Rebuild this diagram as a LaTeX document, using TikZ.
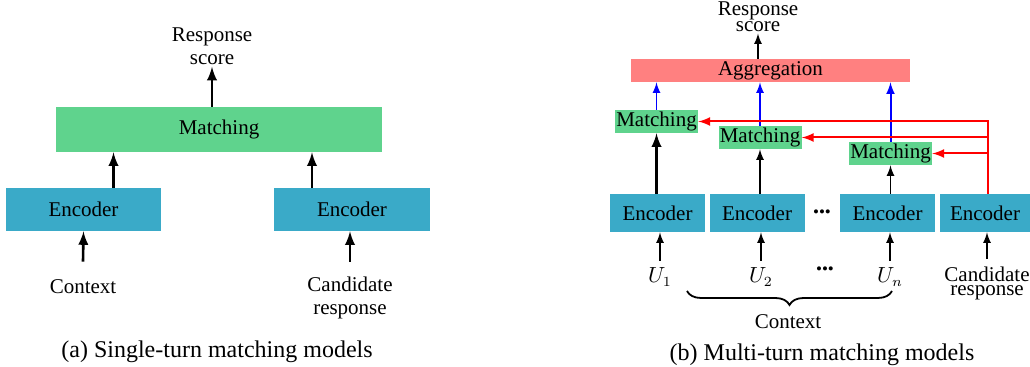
\documentclass[tikz,border=0pt]{standalone}
\usepackage{fontspec}
\setmainfont{Liberation Serif}
\usetikzlibrary{arrows,positioning,calc,decorations.pathreplacing}
\definecolor{matchgreen}{RGB}{95,211,141}
\definecolor{encblue}{RGB}{58,170,200}
\definecolor{aggred}{RGB}{255,128,128}

\begin{document}
\begin{tikzpicture}[x=0.5pt, y=-0.5pt, >=latex,
    font=\fontsize{10.5}{11.5}\selectfont,
    encbox/.style={rectangle, fill=encblue, minimum width=47.5pt, minimum height=19pt, inner sep=1pt},
    matchbox/.style={rectangle, fill=matchgreen, minimum width=41.5pt, minimum height=11.5pt, inner sep=0.5pt},
    lbl/.style={align=center, inner sep=1pt},
    tight/.style={align=center, inner sep=0.5pt, font=\fontsize{10.5}{7}\selectfont},
    dotsl/.style={inner sep=0pt, font=\fontsize{8.5}{9}\selectfont},
    up/.style={->, line width=0.8pt},
    bigup/.style={->, line width=1.3pt},
    redline/.style={->, red, line width=1pt}]

    \useasboundingbox (0,0) rectangle (1030,367);

    % (a) single-turn
    \node[rectangle, fill=matchgreen, minimum width=163pt, minimum height=22.5pt] (match) at (219,129.5) {Matching};
    \node[encbox, minimum width=77.5pt, minimum height=21.5pt] (encL) at (83.5,209.5) {Encoder};
    \node[encbox, minimum width=78pt, minimum height=21.5pt] (encR) at (352,209.5) {Encoder};
    \node[lbl] (score) at (212,46) {Response\\score};
    \node[lbl] (ctx) at (83,287) {Context};
    \node[lbl] (cand) at (350,298) {Candidate\\response};
    \node (capa) at (217,352) {\fontsize{12}{14}\selectfont (a) Single-turn matching models};

    \draw[bigup] (match.north -| score) -- (score.south);
    \draw[bigup] ([xshift=15pt]encL.north) -- ([xshift=15pt]encL.north |- match.south);
    \draw[bigup] ([xshift=-20pt]encR.north) -- ([xshift=-20pt]encR.north |- match.south);
    \draw[bigup] ([yshift=8pt]ctx.north) -- (encL.south);
    \draw[bigup] ([yshift=6.5pt]cand.north) -- (cand.north |- encR.south);

    % (b) multi-turn
    \node[rectangle, fill=aggred, minimum width=139.5pt, minimum height=11.5pt, inner sep=0pt] (agg) at (770.5,70.5) {Aggregation};
    \node[matchbox] (m1) at (656.5,121.5) {Matching};
    \node[matchbox] (m2) at (760,137.5) {Matching};
    \node[matchbox] (m3) at (890.5,153.5) {Matching};
    \node[encbox] (e1) at (657.5,213) {Encoder};
    \node[encbox] (e2) at (757,213) {Encoder};
    \node[encbox] (e3) at (887.5,213) {Encoder};
    \node[encbox, minimum width=45pt] (e4) at (985,213) {Encoder};
    \node[dotsl] (edots) at (822,214) {•••};
    \node[tight] (score2) at (758,17) {Response\\score};
    \node (u1) at (660,277) {$U_1$};
    \node (u2) at (761,277) {$U_2$};
    \node[dotsl] (udots) at (825,271) {•••};
    \node (un) at (890,277) {$U_n$};
    \node[tight] (cand2) at (987,283) {Candidate\\response};
    \node (ctx2) at (788,322) {Context};
    \node (capb) at (822,355) {\fontsize{12}{14}\selectfont (b) Multi-turn matching models};

    \coordinate (bl) at (687,291);
    \coordinate (br) at (892,291);
    \draw[line width=0.9pt, decorate, decoration={brace, mirror, amplitude=7pt}] (bl) -- (br);

    \draw[up] (agg.north -| score2) -- (score2.south);
    \draw[up, blue] (m1.north) -- (m1.north |- agg.south);
    \draw[up, blue] (m2.north) -- (m2.north |- agg.south);
    \draw[up, blue, line width=1pt] (m3.north) -- (m3.north |- agg.south);
    \draw[bigup] (m1.south |- e1.north) -- (m1.south);
    \draw[up] (m2.south |- e2.north) -- (m2.south);
    \draw[up] (m3.south |- e3.north) -- (m3.south);

    \coordinate (rt) at ([xshift=1.5pt]e4.north);
    \draw[redline] (rt) |- (m1.east);
    \draw[redline] (rt |- m2.east) -- (m2.east);
    \draw[redline] (rt |- m3.east) -- (m3.east);

    \draw[up] (u1.north) -- (u1.north |- e1.south);
    \draw[up] (u2.north) -- (u2.north |- e2.south);
    \draw[up] (un.north) -- (un.north |- e3.south);
    \draw[up] ([yshift=3pt]cand2.north) -- (cand2.north |- e4.south);

\end{tikzpicture}
\end{document}
